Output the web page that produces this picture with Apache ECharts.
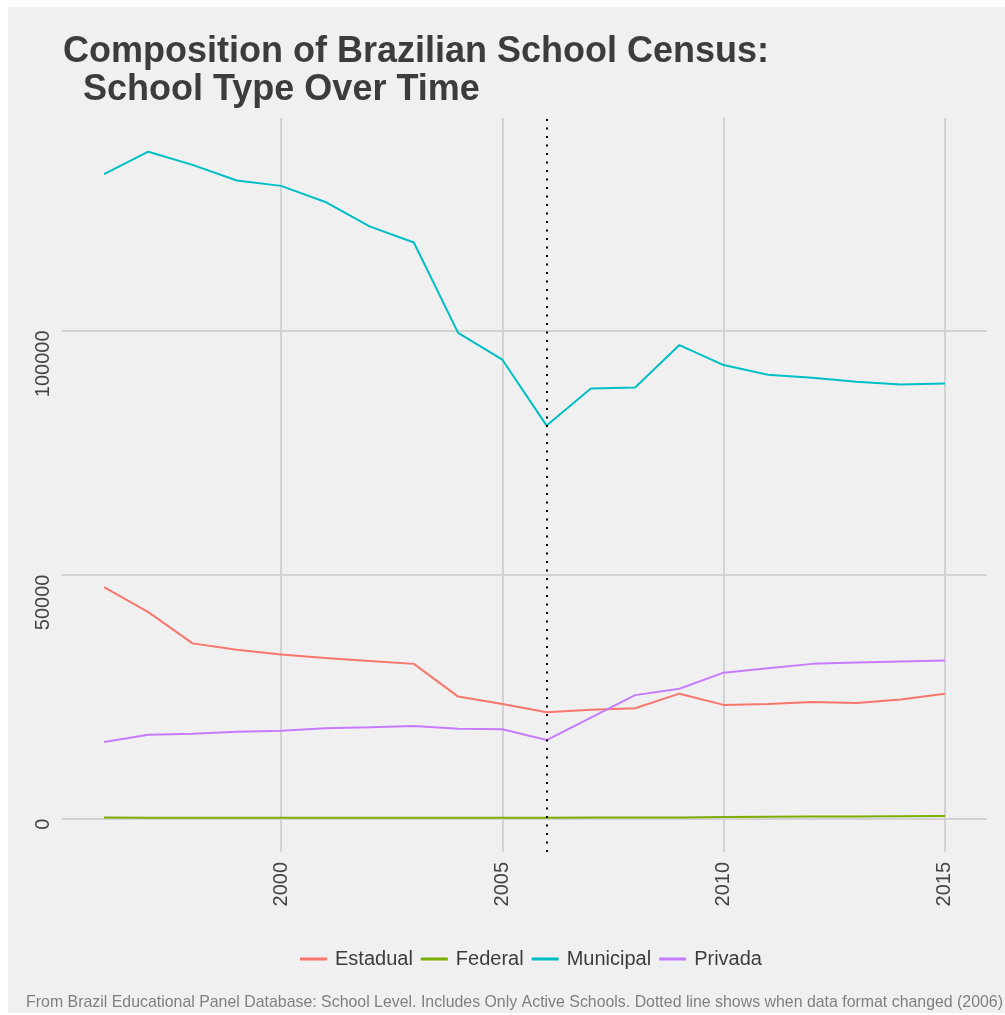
<!DOCTYPE html>
<html>
<head>
<meta charset="utf-8">
<script src="https://cdn.jsdelivr.net/npm/echarts@6/dist/echarts.min.js"></script>
<style>
html,body{margin:0;padding:0;background:#ffffff;width:1005px;height:1015px;overflow:hidden;}
#bg{position:absolute;left:8px;top:7px;width:997px;height:1006px;background:#F0F0F0;}
#main{position:absolute;left:0;top:0;width:1005px;height:1015px;}
</style>
</head>
<body>
<div id="bg"></div>
<div id="main"></div>
<script>
const years = [1996,1997,1998,1999,2000,2001,2002,2003,2004,2005,2006,2007,2008,2009,2010,2011,2012,2013,2014,2015];
const estadual = [47400,42300,35900,34600,33600,32900,32300,31700,25000,23500,21800,22300,22600,25600,23300,23500,23900,23700,24400,25600];
const federal = [230,210,200,190,180,175,170,165,160,160,170,220,240,260,330,380,420,460,510,560];
const municipal = [132000,136600,133900,130700,129600,126300,121300,118000,99500,94000,80500,88100,88300,97000,92900,90900,90300,89500,88900,89100];
const privada = [15700,17200,17400,17800,18000,18500,18700,19000,18400,18300,16100,20700,25300,26600,29900,30800,31700,32000,32200,32400];
const seriesNames = ['Estadual','Federal','Municipal','Privada'];
const seriesColors = ['#F8766D','#7CAE00','#00BFC4','#C77CFF'];
const xTicks = [2000,2005,2010,2015];
const yTicks = [0,50000,100000];
const changeYear = 2006;
const titleText = 'Composition of Brazilian School Census:\n  School Type Over Time';
const captionText = 'From Brazil Educational Panel Database: School Level. Includes Only Active Schools. Dotted line shows when data format changed (2006)';

const FONT = '"Liberation Sans", Arial, Helvetica, sans-serif';
const seriesData = [estadual, federal, municipal, privada];

const chart = echarts.init(document.getElementById('main'), null, {renderer:'canvas'});
const series = seriesNames.map((name, i) => {
  const s = {
    name: name,
    type: 'line',
    data: years.map((y, k) => [y, seriesData[i][k]]),
    symbol: 'none',
    lineStyle: {color: seriesColors[i], width: 2},
    itemStyle: {color: seriesColors[i]},
    emphasis: {disabled: true},
    animation: false,
    z: 3
  };
  if (i === 0) {
    s.markLine = {
      silent: true,
      symbol: ['none','none'],
      label: {show: false},
      animation: false,
      lineStyle: {color: '#000000', type: [2, 6.5], width: 2},
      data: [{xAxis: changeYear}]
    };
  }
  return s;
});

chart.setOption({
  backgroundColor: 'transparent',
  animation: false,
  title: {
    text: titleText,
    left: 63,
    top: 33,
    padding: 0,
    textStyle: {fontFamily: FONT, fontSize: 36, fontWeight: 'bold', color: '#3C3C3C', lineHeight: 38}
  },
  legend: {
    left: 300,
    top: 949,
    padding: 0,
    icon: 'rect',
    itemWidth: 27,
    itemHeight: 3,
    itemGap: 8,
    textStyle: {fontFamily: FONT, fontSize: 20, color: '#3C3C3C', padding: [0,0,0,3]},
    data: seriesNames
  },
  grid: {left: 62, top: 118, width: 925, height: 734, containLabel: false},
  xAxis: {
    type: 'value',
    min: 1995.05,
    max: 2015.95,
    axisLine: {show: false},
    axisTick: {show: false, customValues: xTicks},
    axisLabel: {
      customValues: xTicks,
      rotate: 90,
      margin: 10,
      fontFamily: FONT,
      fontSize: 20,
      color: '#444444',
      formatter: v => String(v)
    },
    splitLine: {show: true, lineStyle: {color: '#D2D2D2', width: 2}}
  },
  yAxis: {
    type: 'value',
    min: -6830,
    max: 143500,
    axisLine: {show: false},
    axisTick: {show: false, customValues: yTicks},
    axisLabel: {
      customValues: yTicks,
      rotate: 90,
      align: 'right',
      verticalAlign: 'middle',
      margin: 19,
      fontFamily: FONT,
      fontSize: 20,
      color: '#444444',
      formatter: v => String(v)
    },
    splitLine: {show: true, lineStyle: {color: '#D2D2D2', width: 2}}
  },
  graphic: [{
    type: 'text',
    right: 2,
    top: 995,
    style: {text: captionText, fontFamily: FONT, fontSize: 15.9, fill: '#7F7F7F'}
  }],
  series: series
});
</script>
</body>
</html>
